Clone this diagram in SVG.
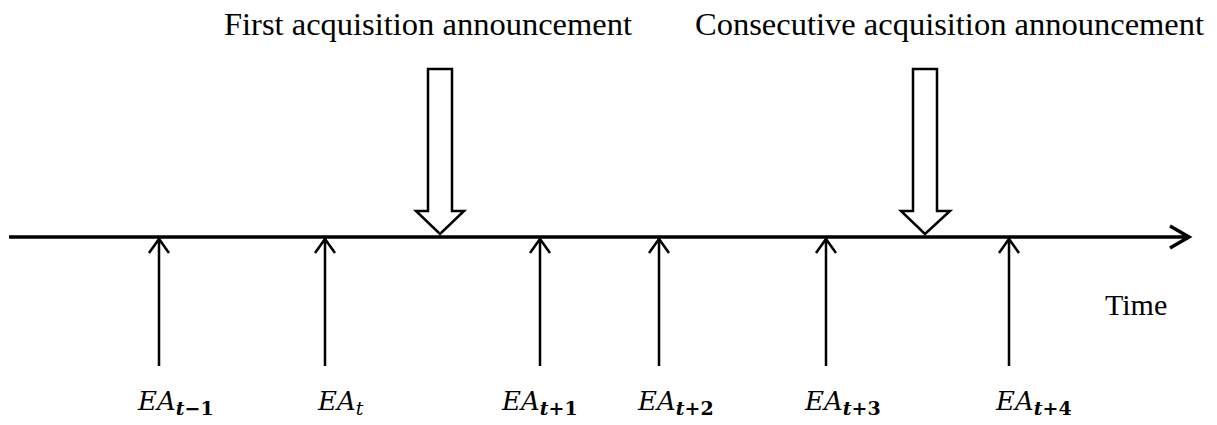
<svg xmlns="http://www.w3.org/2000/svg" width="1217" height="425" viewBox="0 0 1217 425">
<defs>
<style>
.axis{stroke:#000;stroke-width:3.5;fill:none}
.up{stroke:#000;stroke-width:2.5;fill:none}
.hollow{stroke:#000;stroke-width:2.5;fill:#fff;stroke-linejoin:miter}
.title{font-family:"Liberation Serif",serif;font-size:32.5px;fill:#000}
.ea{font-family:"DejaVu Serif","Liberation Serif",serif;font-style:italic;font-size:26px;fill:#000}
.sub{font-family:"DejaVu Serif","Liberation Serif",serif;font-style:italic;font-weight:bold;font-size:19px}
.num{font-style:normal}
</style>
</defs>
<rect width="1217" height="425" fill="#fff"/>
<g id="connectors">
<path class="axis" d="M9 237H1188M1170 226L1189 237L1170 248"/>
<path class="up" d="M159 366V239M149 253L159 239L169 253"/>
<path class="up" d="M325 366V239M315 253L325 239L335 253"/>
<path class="up" d="M540 366V239M530 253L540 239L550 253"/>
<path class="up" d="M659 366V239M649 253L659 239L669 253"/>
<path class="up" d="M826 366V239M816 253L826 239L836 253"/>
<path class="up" d="M1009 366V239M999 253L1009 239L1019 253"/>
</g>
<g id="first-announcement">
<path class="hollow" d="M428 69H452V211H464L440 234L416 211H428Z"/>
<text class="title" x="224" y="35">First acquisition announcement</text>
</g>
<g id="consecutive-announcement">
<path class="hollow" d="M913 69H937V211H950L925 234L901 211H913Z"/>
<text class="title" x="695" y="35">Consecutive acquisition announcement</text>
</g>
<g id="time-label"><text class="title" x="1105" y="315" style="font-size:30px">Time</text></g>
<g id="ea-t-1"><text class="ea" x="138" y="410">EA<tspan class="sub" dy="5">t<tspan class="num">−1</tspan></tspan></text></g>
<g id="ea-t"><text class="ea" x="318" y="410">EA<tspan class="sub" dy="5" style="font-weight:normal">t</tspan></text></g>
<g id="ea-t1"><text class="ea" x="502" y="410">EA<tspan class="sub" dy="5">t<tspan class="num">+1</tspan></tspan></text></g>
<g id="ea-t2"><text class="ea" x="638" y="410">EA<tspan class="sub" dy="5">t<tspan class="num">+2</tspan></tspan></text></g>
<g id="ea-t3"><text class="ea" x="805" y="410">EA<tspan class="sub" dy="5">t<tspan class="num">+3</tspan></tspan></text></g>
<g id="ea-t4"><text class="ea" x="996" y="410">EA<tspan class="sub" dy="5">t<tspan class="num">+4</tspan></tspan></text></g>
</svg>
